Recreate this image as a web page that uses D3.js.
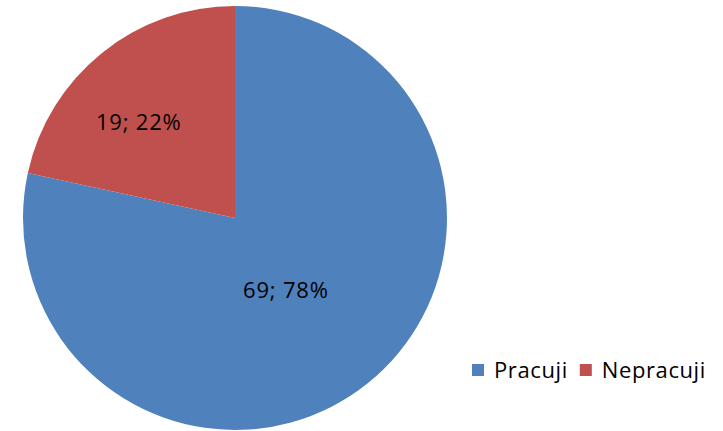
<!DOCTYPE html>
<html>
<head>
<meta charset="utf-8">
<script src="https://cdn.jsdelivr.net/npm/d3@7"></script>
<style>
  body { margin: 0; background: #fff; }
  svg text { font-family: "Open Sans", "Liberation Sans", sans-serif; fill: #000; }
</style>
</head>
<body>
<div id="chart"></div>
<script>
// data
var categories = ["Pracuji", "Nepracuji"];
var values = [69, 19];
var colors = ["#4F81BD", "#C0504D"];

var svgWidth = 723;
var svgHeight = 431;
var cx = 235, cy = 218, radius = 212;

var svg = d3.select("#chart")
  .append("svg")
  .attr("width", svgWidth)
  .attr("height", svgHeight);

var pieGroup = svg.append("g")
  .attr("transform", `translate(${cx}, ${cy})`);

var total = d3.sum(values);

var pie = d3.pie().sort(null).value(d => d);
var arcs = pie(values);

var arc = d3.arc().innerRadius(0).outerRadius(radius);

pieGroup.selectAll("path")
  .data(arcs)
  .enter()
  .append("path")
  .attr("d", arc)
  .attr("fill", (d, i) => colors[i]);

// label placement: fraction of radius and angle nudge (degrees)
var labelFrac = [0.418, 0.64];
var labelNudge = [3.8, -6.3];

pieGroup.selectAll("text.lbl")
  .data(arcs)
  .enter()
  .append("text")
  .attr("class", "lbl")
  .attr("text-anchor", "middle")
  .attr("dy", "0.35em")
  .style("font-size", "22px")
  .style("letter-spacing", "0.8px")
  .attr("transform", function(d, i) {
    var a = (d.startAngle + d.endAngle) / 2 + labelNudge[i] * Math.PI / 180;
    var r = radius * labelFrac[i];
    return `translate(${r * Math.sin(a)}, ${-r * Math.cos(a)})`;
  })
  .text(d => d.value + "; " + Math.round(d.value / total * 100) + "%");

// legend
var legend = svg.append("g").attr("transform", "translate(472, 370)");
var xPos = 0;
categories.forEach(function(c, i) {
  var item = legend.append("g").attr("transform", `translate(${xPos}, 0)`);
  item.append("rect")
    .attr("x", 0).attr("y", -6)
    .attr("width", 12).attr("height", 12)
    .attr("fill", colors[i]);
  var t = item.append("text")
    .attr("x", 22)
    .attr("y", 8)
    .style("font-size", "22px")
    .style("letter-spacing", "0.6px")
    .text(c);
  xPos += 22 + t.node().getComputedTextLength() + 12;
});
</script>
</body>
</html>
